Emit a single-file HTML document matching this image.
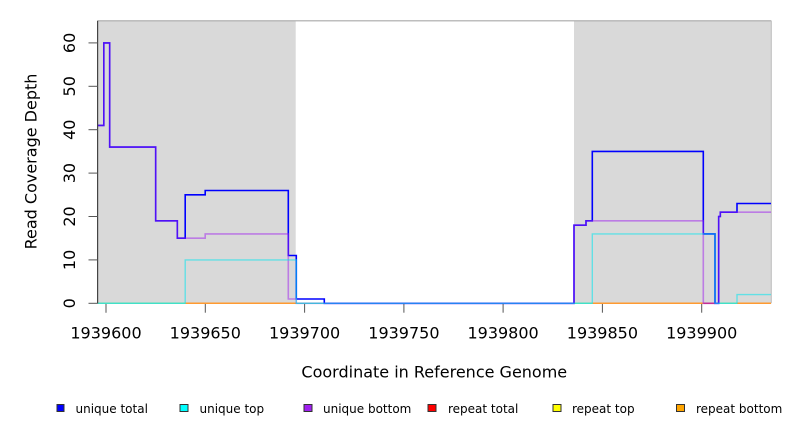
<!DOCTYPE html>
<html>
<head>
<meta charset="utf-8">
<style>
html,body{margin:0;padding:0;background:#fff;}
svg{display:block;}
text{font-family:"DejaVu Sans","Liberation Sans",sans-serif;fill:#000;}
</style>
</head>
<body>
<svg width="792" height="432" viewBox="0 0 792 432" xmlns="http://www.w3.org/2000/svg">
  <rect x="0" y="0" width="792" height="432" fill="#fff"/>
  <!-- gray regions -->
  <rect x="97.7" y="20.7" width="198" height="282.6" fill="#d9d9d9"/>
  <rect x="574" y="20.7" width="197.3" height="282.6" fill="#d9d9d9"/>
  <line x1="97.7" y1="20.8" x2="771.3" y2="20.8" stroke="#a8a8a8" stroke-width="1.2"/>
  <line x1="771.3" y1="20.7" x2="771.3" y2="303.3" stroke="#bcbcbc" stroke-width="1"/>

  <!-- zero-level repeat lines -->
  <g stroke-width="1.5" fill="none">
    <line x1="97.7" y1="303.3" x2="185.2" y2="303.3" stroke="#8fdc9a"/>
    <line x1="185.2" y1="303.3" x2="296.3" y2="303.3" stroke="#ff9a30"/>
    <line x1="296.3" y1="303.3" x2="324.3" y2="303.3" stroke="#8fdc9a"/>
    <line x1="574" y1="303.3" x2="592.3" y2="303.3" stroke="#8fdc9a"/>
    <line x1="592.3" y1="303.3" x2="703.3" y2="303.3" stroke="#ff9a30"/>
    <line x1="703.3" y1="303.3" x2="715" y2="303.3" stroke="#e83c3c"/>
    <line x1="715" y1="303.3" x2="737" y2="303.3" stroke="#8fdc9a"/>
    <line x1="737" y1="303.3" x2="771" y2="303.3" stroke="#ff9a30"/>
  </g>

  <!-- unique total (blue) -->
  <path d="M97.7,125.4 H103.8 V42.9 H109.7 V147.1 H155.7 V220.8 H177.3 V238.2 H185.2 V194.8 H205.2 V190.5 H288.3 V255.5 H296.3 V299 H324.3 V303.3 H574 V225.2 H586 V220.8 H592.3 V151.4 H703.3 V233.9 H715 V303.3 H718.7 V216.5 H720.3 V212.2 H737 V203.5 H771"
        fill="none" stroke="#0000ff" stroke-width="1.6" stroke-linejoin="miter"/>
  <!-- unique bottom (purple) -->
  <path d="M97.7,125.4 H103.8 V42.9 H109.7 V147.1 H155.7 V220.8 H177.3 V238.2 H205.2 V233.9 H288.3 V299 H296.3 V303.3 H574 V225.2 H586 V220.8 H703.3 V303.3 H718.7 V216.5 H720.3 V212.2 H771"
        fill="none" stroke="#a020f0" stroke-opacity="0.5" stroke-width="1.6"/>
  <!-- unique top (cyan) -->
  <path d="M97.7,303.3 H185.2 V259.9 H296.3 V303.3 H592.3 V233.9 H715 V303.3 H737 V294.6 H771"
        fill="none" stroke="#00e5ee" stroke-opacity="0.55" stroke-width="1.4"/>

  <!-- y axis -->
  <line x1="97.6" y1="20.7" x2="97.6" y2="303.5" stroke="#444" stroke-width="1.2"/>
  <g stroke="#555" stroke-width="1">
    <line x1="88.5" y1="303.3" x2="97.7" y2="303.3"/>
    <line x1="88.5" y1="259.9" x2="97.7" y2="259.9"/>
    <line x1="88.5" y1="216.5" x2="97.7" y2="216.5"/>
    <line x1="88.5" y1="173.1" x2="97.7" y2="173.1"/>
    <line x1="88.5" y1="129.7" x2="97.7" y2="129.7"/>
    <line x1="88.5" y1="86.3" x2="97.7" y2="86.3"/>
    <line x1="88.5" y1="42.9" x2="97.7" y2="42.9"/>
  </g>
  <g font-size="16" text-anchor="middle">
    <text transform="translate(75,303.3) rotate(-90)">0</text>
    <text transform="translate(75,259.9) rotate(-90)">10</text>
    <text transform="translate(75,216.5) rotate(-90)">20</text>
    <text transform="translate(75,173.1) rotate(-90)">30</text>
    <text transform="translate(75,129.7) rotate(-90)">40</text>
    <text transform="translate(75,86.3) rotate(-90)">50</text>
    <text transform="translate(75,42.9) rotate(-90)">60</text>
    <text transform="translate(36.5,161.5) rotate(-90)">Read Coverage Depth</text>
  </g>

  <!-- x axis ticks -->
  <g stroke="#555" stroke-width="1">
    <line x1="106" y1="304" x2="106" y2="312.7"/>
    <line x1="205.3" y1="304" x2="205.3" y2="312.7"/>
    <line x1="304.6" y1="304" x2="304.6" y2="312.7"/>
    <line x1="403.9" y1="304" x2="403.9" y2="312.7"/>
    <line x1="503.1" y1="304" x2="503.1" y2="312.7"/>
    <line x1="602.4" y1="304" x2="602.4" y2="312.7"/>
    <line x1="701.7" y1="304" x2="701.7" y2="312.7"/>
  </g>
  <g font-size="16" text-anchor="middle">
    <text x="106" y="338.3">1939600</text>
    <text x="205.3" y="338.3">1939650</text>
    <text x="304.6" y="338.3">1939700</text>
    <text x="403.9" y="338.3">1939750</text>
    <text x="503.1" y="338.3">1939800</text>
    <text x="602.4" y="338.3">1939850</text>
    <text x="701.7" y="338.3">1939900</text>
    <text x="434.3" y="377.7">Coordinate in Reference Genome</text>
  </g>

  <!-- legend -->
  <g stroke="#333" stroke-width="1">
    <rect x="57" y="404.5" width="7" height="7" fill="#0000ff"/>
    <rect x="180" y="404.5" width="8" height="7" fill="#00ffff"/>
    <rect x="304" y="404.5" width="8" height="7" fill="#a020f0"/>
    <rect x="428" y="404.5" width="8" height="7" fill="#ff0000"/>
    <rect x="553" y="404.5" width="8" height="7" fill="#ffff00"/>
    <rect x="676.5" y="404.5" width="8" height="7" fill="#ffa500"/>
  </g>
  <g font-size="12">
    <text x="75.5" y="412.8">unique total</text>
    <text x="199.5" y="412.8">unique top</text>
    <text x="323" y="412.8">unique bottom</text>
    <text x="448" y="412.8">repeat total</text>
    <text x="572" y="412.8">repeat top</text>
    <text x="696" y="412.8">repeat bottom</text>
  </g>
</svg>
</body>
</html>
